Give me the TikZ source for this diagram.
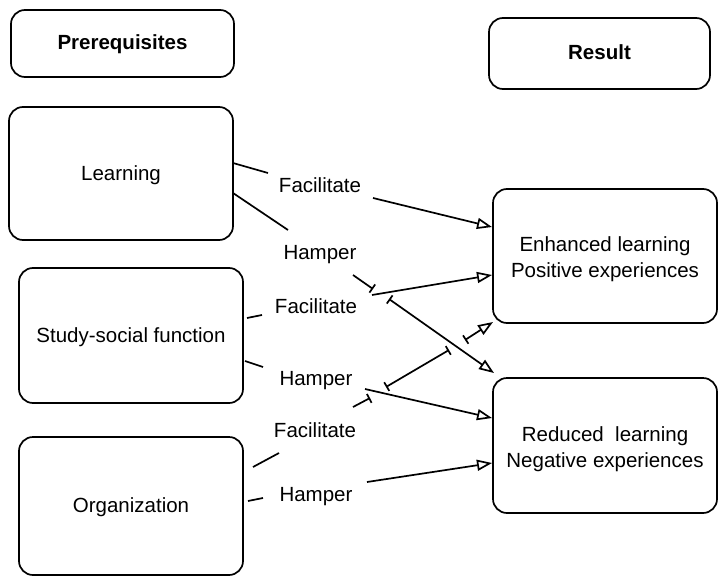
\documentclass[tikz,border=0pt]{standalone}
\usepackage{fontspec}
\setmainfont{Liberation Sans}
\usetikzlibrary{arrows.meta}
\tikzset{
  tri/.tip={Triangle[open,length=15pt,width=11pt]},
  br/.tip={Bar[width=10pt]}
}
\begin{document}
\begin{tikzpicture}[x=1pt,y=-1pt,
  txt/.style={font=\fontsize{20.5}{26}\selectfont, text height=15pt, text depth=2pt},
  box/.style={draw, line width=1.7pt, rounded corners=14pt, align=center, inner sep=0pt, txt},
  twoline/.style={text height=47pt, text depth=4pt},
  lab/.style={inner sep=1pt, txt},
  con/.style={line width=1.7pt}]
\useasboundingbox (0,0) rectangle (727,583);
% boxes
\node[box, minimum width=223pt, minimum height=67pt, font=\fontsize{20.5}{26}\selectfont\bfseries] (pre) at (122.5,43.5) {Prerequisites};
\node[box, minimum width=221pt, minimum height=71pt, font=\fontsize{20.5}{26}\selectfont\bfseries] (res) at (599.5,53.5) {Result};
\node[box, minimum width=224pt, minimum height=133pt] (learn) at (121,173.5) {Learning};
\node[box, minimum width=224pt, minimum height=135pt] (study) at (131,335.5) {Study-social function};
\node[box, minimum width=224pt, minimum height=138pt] (org) at (131,506) {Organization};
\node[box, twoline, minimum width=224pt, minimum height=134pt] (enh) at (605,256) {Enhanced learning\\Positive experiences};
\node[box, twoline, minimum width=224pt, minimum height=135pt] (red) at (605,445.5) {Reduced\ \ learning\\Negative experiences};
% labels
\node[lab] (lf) at (320,186) {Facilitate};
\node[lab] (lh) at (320,253) {Hamper};
\node[lab] (sf) at (316,307) {Facilitate};
\node[lab] (sh) at (316,379) {Hamper};
\node[lab] (of) at (315,431) {Facilitate};
\node[lab] (oh) at (316,495) {Hamper};
% connector points
\coordinate (lf1) at (233,163); \coordinate (lf2) at (268,173);
\coordinate (lf3) at (373,198); \coordinate (lf4) at (492,227);
\coordinate (lh1) at (233,193); \coordinate (lh2) at (288,230);
\coordinate (lh3) at (353,275); \coordinate (lh4) at (373,289);
\coordinate (lh5) at (389,299); \coordinate (lh6) at (494,373);
\coordinate (sf1) at (247,318); \coordinate (sf2) at (262,315);
\coordinate (sf3) at (372,295); \coordinate (sf4) at (492,275);
\coordinate (sh1) at (245,361); \coordinate (sh2) at (263,367);
\coordinate (sh3) at (365,389); \coordinate (sh4) at (492,418);
\coordinate (of1) at (253,467); \coordinate (of2) at (279,453);
\coordinate (of3) at (353,407); \coordinate (of4) at (370,398);
\coordinate (of5) at (386,387); \coordinate (of6) at (449,350);
\coordinate (of7) at (465,340); \coordinate (of8) at (493,322);
\coordinate (oh1) at (248,501); \coordinate (oh2) at (263,498);
\coordinate (oh3) at (367,482); \coordinate (oh4) at (492,463);
% Learning
\draw[con] (lf1) -- (lf2);
\draw[con,-{tri}] (lf3) -- (lf4);
\draw[con] (lh1) -- (lh2);
\draw[con,-{br}] (lh3) -- (lh4);
\draw[con,{br}-{tri}] (lh5) -- (lh6);
% Study-social
\draw[con] (sf1) -- (sf2);
\draw[con,-{tri}] (sf3) -- (sf4);
\draw[con] (sh1) -- (sh2);
\draw[con,-{tri}] (sh3) -- (sh4);
% Organization
\draw[con] (of1) -- (of2);
\draw[con,-{br}] (of3) -- (of4);
\draw[con,{br}-{br}] (of5) -- (of6);
\draw[con,{br}-{tri}] (of7) -- (of8);
\draw[con] (oh1) -- (oh2);
\draw[con,-{tri}] (oh3) -- (oh4);
\end{tikzpicture}
\end{document}
